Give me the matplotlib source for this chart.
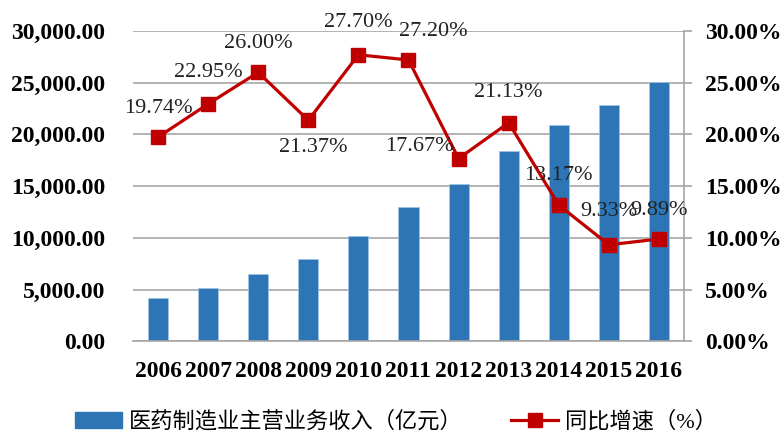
import numpy as np
import matplotlib
matplotlib.use("Agg")
import matplotlib.pyplot as plt
from matplotlib.ticker import FuncFormatter, MultipleLocator

years = ["2006", "2007", "2008", "2009", "2010", "2011",
         "2012", "2013", "2014", "2015", "2016"]
revenue = [4220, 5160, 6540, 7930, 10180, 12960,
           15210, 18430, 20890, 22820, 25080]
growth = [19.74, 22.95, 26.00, 21.37, 27.70, 27.20,
          17.67, 21.13, 13.17, 9.33, 9.89]
bar_name = "医药制造业主营业务收入（亿元）"
line_name = "同比增速（%）"

# label offsets from each marker, in pixels (x right, y up)
label_offsets = [(0, 29), (0, 31), (0, 29), (5, -27), (0, 32), (25, 28),
                 (-39, 12), (0, 30), (0, 30), (0, 33), (0, 29)]

serif = "Liberation Serif"
grid_gray = "#a6a6a6"
bar_blue = "#2e75b6"
line_red = "#c00000"

fig = plt.figure(figsize=(7.84, 4.32), dpi=100)
ax = fig.add_axes([133 / 784, 1 - 341.3 / 432, (684 - 133) / 784, (341.3 - 31) / 432])
x = np.arange(len(years))

ax.bar(x, revenue, width=0.4, color=bar_blue, edgecolor="#9dc3e6", linewidth=0.6, zorder=2)
ax.set_xlim(-0.5, len(years) - 0.5)
ax.set_ylim(0, 30000)
ax.yaxis.set_major_locator(MultipleLocator(5000))
ax.yaxis.set_major_formatter(FuncFormatter(lambda v, p: f"{v:,.2f}"))
ax.set_xticks(x)
ax.set_xticklabels(years)
ax.grid(axis="y", color=grid_gray, linewidth=1.2, zorder=0)
ax.set_axisbelow(True)
for s in ["top", "left", "right"]:
    ax.spines[s].set_visible(False)
ax.spines["bottom"].set_color(grid_gray)
ax.spines["bottom"].set_linewidth(1.2)
ax.tick_params(axis="y", length=0, pad=20)
ax.tick_params(axis="x", length=0, pad=14)
for lab in ax.get_xticklabels() + ax.get_yticklabels():
    lab.set_fontfamily(serif)
    lab.set_fontweight("bold")
    lab.set_fontsize(17)

ax2 = ax.twinx()
ax2.plot(x, [g / 100 for g in growth], color=line_red, linewidth=2.3,
         marker="s", markersize=9.5, zorder=3)
ax2.set_ylim(0, 0.30)
ax2.yaxis.set_major_locator(MultipleLocator(0.05))
ax2.yaxis.set_major_formatter(FuncFormatter(lambda v, p: f"{v * 100:.2f}%"))
for s in ["top", "left", "bottom"]:
    ax2.spines[s].set_visible(False)
ax2.spines["right"].set_color(grid_gray)
ax2.spines["right"].set_linewidth(1.2)
ax2.tick_params(axis="y", length=6, width=1.2, color=grid_gray, pad=9)
for lab in ax2.get_yticklabels():
    lab.set_fontfamily(serif)
    lab.set_fontweight("bold")
    lab.set_fontsize(17)

for i, g in enumerate(growth):
    dx, dy = label_offsets[i]
    ax2.annotate(f"{g:.2f}%", (x[i], g / 100), xytext=(dx, dy),
                 textcoords="offset pixels", ha="center", va="center",
                 fontsize=16, fontfamily=serif, color="#222222", zorder=4)

h1 = plt.Rectangle((0, 0), 1, 1, color=bar_blue)
h2 = plt.Line2D([], [], color=line_red, linewidth=2.3, marker="s", markersize=9.5)
fig.legend([h1, h2], [bar_name, line_name], loc="center",
           bbox_to_anchor=(0.505, 1 - 422 / 432), ncol=2, frameon=False,
           prop={"family": [serif, "Noto Sans CJK SC"], "size": 16},
           handlelength=2.1, handletextpad=0.3, columnspacing=2.2)

fig.savefig("out.png", dpi=100)
